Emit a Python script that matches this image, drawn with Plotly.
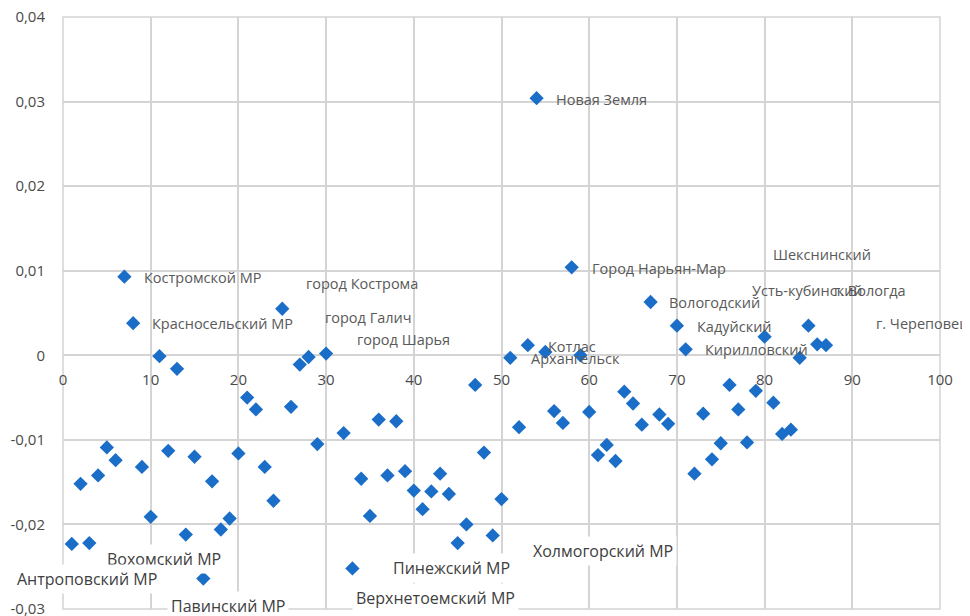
import plotly.graph_objects as go

# ---- data ----
x_idx = list(range(1, 31)) + list(range(32, 88))
y_vals = [
    -0.0223, -0.0152, -0.0222, -0.0142, -0.0109, -0.0124, 0.0093, 0.0038, -0.0132, -0.0191,
    -0.0001, -0.0113, -0.0016, -0.0212, -0.0120, -0.0264, -0.0149, -0.0206, -0.0193, -0.0116,
    -0.0050, -0.0064, -0.0132, -0.0172, 0.0055, -0.0061, -0.0011, -0.0002, -0.0105, 0.0002,
    -0.0092, -0.0252, -0.0146, -0.0190, -0.0076, -0.0142, -0.0078, -0.0137, -0.0160, -0.0182,
    -0.0161, -0.0140, -0.0164, -0.0222, -0.0200, -0.0035, -0.0115, -0.0213, -0.0170, -0.0003,
    -0.0085, 0.0012, 0.0304, 0.0004, -0.0066, -0.0080, 0.0104, 0.0000, -0.0067, -0.0118,
    -0.0106, -0.0125, -0.0043, -0.0057, -0.0082, 0.0063, -0.0070, -0.0081, 0.0035, 0.0007,
    -0.0140, -0.0069, -0.0123, -0.0104, -0.0035, -0.0064, -0.0103, -0.0042, 0.0022, -0.0056,
    -0.0093, -0.0088, -0.0003, 0.0035, 0.0013, 0.0012,
]

x_ticks = [0, 10, 20, 30, 40, 50, 60, 70, 80, 90, 100]
y_ticks = [-0.03, -0.02, -0.01, 0, 0.01, 0.02, 0.03, 0.04]
y_ticktext = ["-0,03", "-0,02", "-0,01", "0", "0,01", "0,02", "0,03", "0,04"]

# upper labels (small grey) and lower labels (larger, boxed)
upper_names = ["Костромской МР", "Красносельский МР", "город Кострома", "город Галич",
               "город Шарья", "Новая Земля", "Город Нарьян-Мар", "Котлас", "Архангельск",
               "Вологодский", "Кадуйский", "Кирилловский", "Шекснинский", "Усть-кубинский",
               "г. Вологда", "г. Череповец"]
upper_pos = [(9.0, 0.0092), (9.9, 0.0038), (27.5, 0.0085), (29.6, 0.0045),
             (33.3, 0.0019), (56.0, 0.0303), (60.1, 0.0103), (55.1, 0.0010), (53.1, -0.0004),
             (68.9, 0.0063), (72.1, 0.0034), (73.0, 0.0007), (80.7, 0.0119), (78.3, 0.0077),
             (87.7, 0.0077), (92.5, 0.0038)]

lower_names = ["Вохомский МР", "Антроповский МР", "Павинский МР", "Пинежский МР",
               "Верхнетоемский МР", "Холмогорский МР"]
lower_pos = [(4.6, -0.0241), (-5.7, -0.0264), (11.9, -0.0296), (37.2, -0.0251),
             (33.0, -0.0287), (53.1, -0.0231)]

FONT = "Open Sans"
GRID = "#d4d4d4"
TXT = "#4a4a4a"
x_min, x_max = 0, 100
y_min, y_max = -0.03, 0.04

fig = go.Figure()
fig.add_trace(go.Scatter(
    x=x_idx, y=y_vals, mode="markers",
    marker=dict(symbol="diamond", size=11, color="#1b6ec8", line=dict(width=0)),
    hoverinfo="x+y", showlegend=False,
))


def label(name, ax, ay, **kw):
    # labels whose anchor lies left of the x range are placed in paper units
    if ax < x_min:
        return dict(x=(ax - x_min) / (x_max - x_min), xref="paper", y=ay, yref="y",
                    text=name, showarrow=False, xanchor="left", yanchor="middle", **kw)
    return dict(x=ax, y=ay, xref="x", yref="y", text=name, showarrow=False,
                xanchor="left", yanchor="middle", **kw)


annotations = []
for name, (ax, ay) in zip(upper_names, upper_pos):
    annotations.append(label(name, ax, ay,
                             font=dict(family=FONT, size=14.5, color="#595959")))
for name, (ax, ay) in zip(lower_names, lower_pos):
    annotations.append(label(name, ax, ay, bgcolor="white", borderpad=3,
                             font=dict(family=FONT, size=16, color="#404040")))

# plot-area frame (edge gridlines are not drawn by plotly)
fig.add_shape(type="rect", xref="paper", yref="paper", x0=0, y0=0, x1=1, y1=1,
              line=dict(color=GRID, width=1.5), layer="below")

# the page body adds an 8px offset, so the figure is 8px smaller and margins compensate
fig.update_layout(
    width=962, height=608,
    margin=dict(l=55, r=30, t=9, b=7, autoexpand=False),
    paper_bgcolor="white", plot_bgcolor="white",
    font=dict(family=FONT, size=15, color=TXT),
    annotations=annotations,
    xaxis=dict(range=[x_min, x_max], tickvals=x_ticks, showgrid=True, gridcolor=GRID,
               gridwidth=1.5, zeroline=False, showline=False, ticks="", automargin=False,
               anchor="free", position=(0 - y_min) / (y_max - y_min),
               ticklabelstandoff=14, tickfont=dict(size=15, color=TXT)),
    yaxis=dict(range=[y_min, y_max], tickvals=y_ticks, ticktext=y_ticktext, showgrid=True,
               gridcolor=GRID, gridwidth=1.5, zeroline=False, showline=False, ticks="",
               ticklabelstandoff=17, ticklabeloverflow="allow", automargin=False,
               tickfont=dict(size=15, color=TXT), domain=[0, 1]),
)

fig.write_html("out.html")
